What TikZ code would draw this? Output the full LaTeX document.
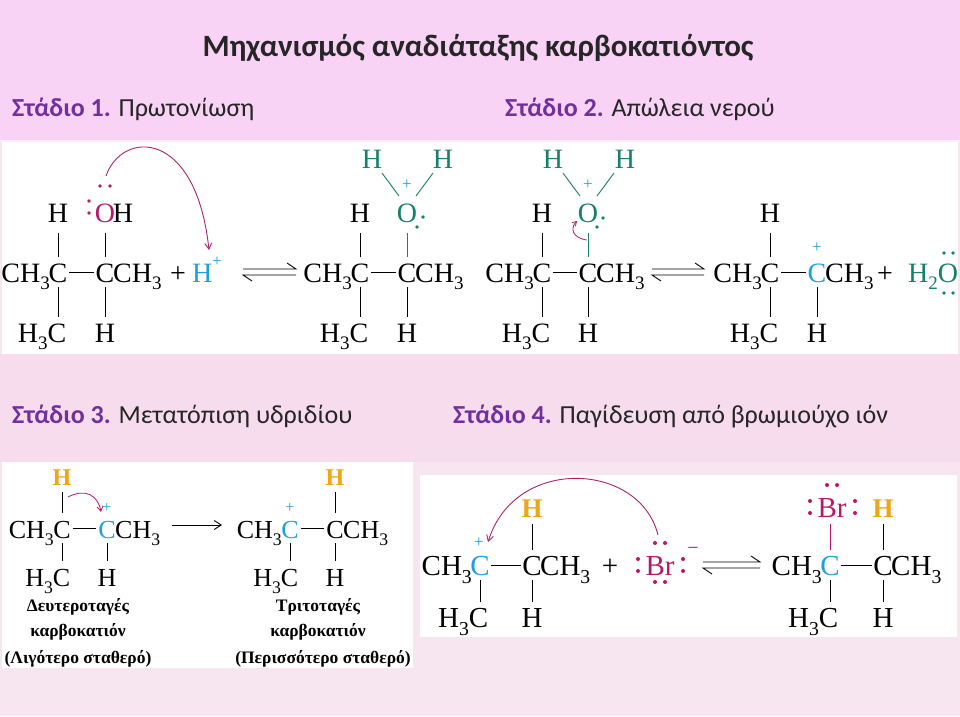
\documentclass[tikz,border=0pt]{standalone}
\usepackage{fontspec}
\setmainfont{Liberation Serif}
\newfontfamily\headf{Carlito}
\usetikzlibrary{arrows.meta}
\definecolor{bgtop}{HTML}{F8D3F6}
\definecolor{bgmid}{HTML}{F6DCEC}
\definecolor{bgbot}{HTML}{F7E6EF}
\definecolor{purp}{HTML}{7030A0}
\definecolor{mag}{HTML}{B8186A}
\definecolor{teal}{HTML}{16806A}
\definecolor{cblue}{HTML}{1EA0DC}
\definecolor{orng}{HTML}{EDA51A}
\definecolor{arc}{HTML}{A8256E}
\newcommand\sub[1]{\raisebox{-0.28em}{\scalebox{0.68}{#1}}}
\newcommand\supp[1]{\raisebox{0.55em}{\scalebox{0.6}{#1}}}
\tikzset{atom/.style={inner sep=0pt,anchor=base},
 bond/.style={line width=0.9pt},
 head/.style={inner sep=0pt,anchor=base west,font=\headf\fontsize{26}{26}\selectfont,text=black!85},
 lp/.style={fill,circle,inner sep=0pt,minimum size=3.6pt},
 curly/.style={line width=0.9pt,arc,-{Straight Barb[length=6pt,width=7pt]}}}
% #1 prefix, #2 x1, #3 x2, #4 y, #5 d, #6 colour C1, #7 colour C2
\newcommand\mol[7]{%
 \node[atom,anchor=base east] (#1a) at (#2-8,#4+10) {CH\sub{3}};
 \node[atom,text=#6] (#1c1) at (#2,#4+10) {C};
 \node[atom,text=#7] (#1c2) at (#3,#4+10) {C};
 \node[atom,anchor=base west] (#1b) at (#3+8,#4+10) {CH\sub{3}};
 \coordinate (#1l) at (#2+11,#4); \coordinate (#1r) at (#3-11,#4);
 \draw[bond] (#1l) -- (#1r);
 \node[atom,anchor=base east] (#1d) at (#2+8.5,#4+#5+10) {H\sub{3}C};
 \node[atom] (#1e) at (#3,#4+#5+10) {H};
 \draw[bond] (#2,#4+15) -- (#2,#4+#5-15);
 \draw[bond] (#3,#4+15) -- (#3,#4+#5-15);}
\newcommand\eqarr[3]{%
 \draw[bond] (#1,#3-3) -- (#2,#3-3) -- (#2-9,#3-9);
 \draw[bond] (#2,#3+3) -- (#1,#3+3) -- (#1+9,#3+9);}
\begin{document}
\begin{tikzpicture}[x=1pt,y=-1pt]
\useasboundingbox (0,0) rectangle (960,716);
\fill[bgbot] (0,0) rectangle (960,716);
\fill[bgtop] (0,0) rectangle (960,140);
\fill[white!60!bgtop] (0,140) rectangle (960,142);
\fill[white] (2,142) rectangle (958,354);
\fill[bgmid] (0,354) rectangle (960,462);
\fill[white] (2,462) rectangle (413,668);
\fill[white] (420,475) rectangle (957,637);
% headings
\node[inner sep=0pt,anchor=base,font=\headf\bfseries\fontsize{31}{31}\selectfont,text=black!85] (title) at (478,56) {Μηχανισμός αναδιάταξης καρβοκατιόντος};
\node[head] (s1) at (12,116) {\textcolor{purp}{\bfseries Στάδιο 1.} Πρωτονίωση};
\node[head] (s2) at (505,116) {\textcolor{purp}{\bfseries Στάδιο 2.} Απώλεια νερού};
\node[head] (s3) at (12,423) {\textcolor{purp}{\bfseries Στάδιο 3.} Μετατόπιση υδριδίου};
\node[head] (s4) at (453,423) {\textcolor{purp}{\bfseries Στάδιο 4.} Παγίδευση από βρωμιούχο ιόν};
% ===== Stage 1 & 2 =====
\begin{scope}[font=\fontsize{28}{28}\selectfont]
\mol{m1}{58}{105}{272}{60}{black}{black}
\node[atom] (m1h) at (58,222) {H};
\draw[bond] (58,257) -- (58,233);
\node[atom,text=mag] (m1o) at (105,222) {O};
\node[atom] (m1oh) at (123,222) {H};
\draw[bond] (105,257) -- (105,233);
\fill[mag] (89,201) circle (1.9) (89,213) circle (1.9) (100,186) circle (1.9) (110,186) circle (1.9);
\draw[curly] (106,176) .. controls (122,130) and (196,128) .. (209,250);
\node[atom] (p1) at (178,282) {+};
\node[atom,text=cblue] (hp) at (207,282) {H\supp{+}};
\eqarr{243}{296}{272}
\mol{m2}{360}{407}{272}{60}{black}{black}
\node[atom] (m2h) at (360,222) {H};
\draw[bond] (360,257) -- (360,233);
\node[atom,text=teal] (m2o) at (407,222) {O};
\draw[bond,teal] (407,257) -- (407,233);
\node[atom,text=cblue,font=\fontsize{17}{17}\selectfont] (m2p) at (407,189) {+};
\node[atom,text=teal] (m2h1) at (372,168) {H};
\node[atom,text=teal] (m2h2) at (443,168) {H};
\draw[bond,teal] (399,196) -- (382,173) (416,196) -- (433,173);
\fill[teal] (423,217) circle (1.9) (417,227) circle (1.9);
\mol{m3}{542}{588}{272}{60}{black}{black}
\node[atom] (m3h) at (542,222) {H};
\draw[bond] (542,257) -- (542,233);
\node[atom,text=teal] (m3o) at (588,222) {O};
\draw[bond,teal] (588,257) -- (588,233);
\node[atom,text=cblue,font=\fontsize{17}{17}\selectfont] (m3p) at (588,189) {+};
\node[atom,text=teal] (m3h1) at (553,168) {H};
\node[atom,text=teal] (m3h2) at (625,168) {H};
\draw[bond,teal] (580,196) -- (563,173) (597,196) -- (614,173);
\fill[teal] (603,218) circle (1.9) (597,227) circle (1.9);
\draw[line width=0.8pt,mag,-{Straight Barb[length=4pt,width=5pt]}] (587,240) .. controls (572,238) and (570,228) .. (577,221);
\eqarr{652}{704}{272}
\mol{m4}{770}{817}{272}{60}{black}{cblue}
\node[atom] (m4h) at (770,222) {H};
\draw[bond] (770,257) -- (770,233);
\node[atom,text=cblue,font=\fontsize{17}{17}\selectfont] (m4p) at (817,252) {+};
\node[atom] (p2) at (885,282) {+};
\node[atom,text=teal,anchor=base east] (w) at (938,282) {H\sub{2}};
\node[atom,text=teal] (wo) at (948,282) {O};
\fill[teal] (944,253) circle (1.9) (953,253) circle (1.9) (944,293) circle (1.9) (953,293) circle (1.9);
\end{scope}
% ===== Stage 3 =====
\begin{scope}[font=\fontsize{26}{26}\selectfont]
\mol{m5}{62}{107}{528}{48}{black}{cblue}
\node[atom,text=orng,font=\fontsize{24}{24}\selectfont\bfseries] (m5h) at (62,485) {H};
\draw[bond] (62,513) -- (62,492);
\node[atom,text=cblue,font=\fontsize{16}{16}\selectfont] (m5p) at (107,512) {+};
\draw[line width=0.8pt,mag,-{Straight Barb[length=5pt,width=6pt]}] (68,497) .. controls (85,488) and (98,495) .. (101,512);
\draw[bond,-{Straight Barb[length=7pt,width=9pt]}] (172,525) -- (222,525);
\mol{m6}{290}{335}{528}{48}{cblue}{black}
\node[atom,text=cblue,font=\fontsize{16}{16}\selectfont] (m6p) at (290,512) {+};
\node[atom,text=orng,font=\fontsize{24}{24}\selectfont\bfseries] (m6h) at (335,485) {H};
\draw[bond] (335,513) -- (335,492);
\begin{scope}[font=\fontsize{17.5}{22}\selectfont\bfseries]
\node[atom] (l1) at (78,611) {Δευτεροταγές};
\node[atom] (l2) at (78,636) {καρβοκατιόν};
\node[atom] (l3) at (78,663) {(Λιγότερο σταθερό)};
\node[atom] (r1) at (318,611) {Τριτοταγές};
\node[atom] (r2) at (318,636) {καρβοκατιόν};
\node[atom] (r3) at (323,663) {(Περισσότερο σταθερό)};
\end{scope}
\end{scope}
% ===== Stage 4 =====
\begin{scope}[font=\fontsize{29}{29}\selectfont]
\mol{m7}{480}{532}{565}{52}{cblue}{black}
\node[atom,text=cblue,font=\fontsize{17}{17}\selectfont] (m7p) at (479,547) {+};
\node[atom,text=orng,font=\fontsize{27}{27}\selectfont\bfseries] (m7h) at (532,517) {H};
\draw[bond] (532,550) -- (532,524);
\node[atom] (p3) at (610,575) {+};
\node[atom,text=mag] (br) at (660,575) {Br};
\fill[mag] (638,559) circle (2) (638,571) circle (2) (683,559) circle (2) (683,571) circle (2)
 (655,543) circle (2) (665,543) circle (2) (655,582) circle (2) (665,582) circle (2);
\node[atom,text=mag,font=\fontsize{20}{20}\selectfont] (brm) at (693,554) {\textminus};
\draw[curly] (658,535) .. controls (640,462) and (515,455) .. (488,542);
\eqarr{703}{760}{565}
\mol{m8}{830}{883}{565}{52}{cblue}{black}
\node[atom,text=mag] (br2) at (832,517) {Br};
\draw[bond,mag] (830,550) -- (830,524);
\fill[mag] (810,501) circle (2) (810,513) circle (2) (855,501) circle (2) (855,513) circle (2)
 (827,485) circle (2) (837,485) circle (2);
\node[atom,text=orng,font=\fontsize{27}{27}\selectfont\bfseries] (m8h) at (883,517) {H};
\draw[bond] (883,550) -- (883,524);
\end{scope}
\end{tikzpicture}
\end{document}
